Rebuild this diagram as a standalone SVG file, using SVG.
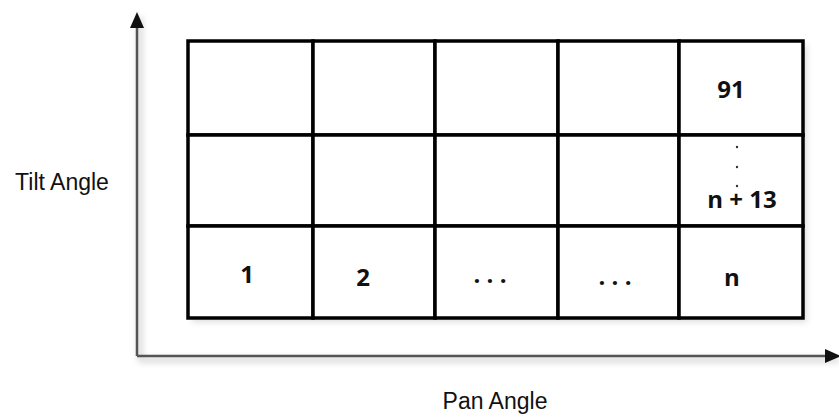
<svg xmlns="http://www.w3.org/2000/svg" width="839" height="418" viewBox="0 0 839 418">
<style>
.cell{fill:#fff;stroke:#000;stroke-width:3.5}
.num{font-family:"Open Sans","Liberation Sans",sans-serif;font-weight:bold;font-size:24px;fill:#111;text-anchor:middle}
.lbl{font-family:"Liberation Sans",Arial,sans-serif;font-size:23px;fill:#111;text-anchor:middle}
.axis{stroke:#555;stroke-width:2.5;fill:none}
</style>
<defs>
<marker id="ah" markerWidth="16" markerHeight="14" refX="4" refY="7" orient="auto" markerUnits="userSpaceOnUse">
<path d="M0,0 L16,7 L0,14 z" fill="#111"/>
</marker>
<filter id="sh" x="-20%" y="-20%" width="140%" height="140%"><feGaussianBlur stdDeviation="3"/></filter>
</defs>
<rect width="839" height="418" fill="#fff"/>
<g id="connectors">
<path d="M140,360 L140,17 M140,360 L839,360" stroke="#ccc" stroke-width="4" fill="none" filter="url(#sh)"/>
<path class="axis" d="M137,356 L137,24" marker-end="url(#ah)"/>
<path class="axis" d="M137,356 L829,356" marker-end="url(#ah)"/>
</g>
<g id="grid">
<rect x="192" y="45" width="615" height="277" fill="#ddd" filter="url(#sh)"/>
<g id="r1c1"><rect class="cell" x="188" y="41" width="125" height="94"/></g>
<g id="r1c2"><rect class="cell" x="313" y="41" width="122" height="94"/></g>
<g id="r1c3"><rect class="cell" x="435" y="41" width="123" height="94"/></g>
<g id="r1c4"><rect class="cell" x="558" y="41" width="121" height="94"/></g>
<g id="r1c5"><rect class="cell" x="679" y="41" width="124" height="94"/><text class="num" x="731" y="98">91</text></g>
<g id="r2c1"><rect class="cell" x="188" y="135" width="125" height="91"/></g>
<g id="r2c2"><rect class="cell" x="313" y="135" width="122" height="91"/></g>
<g id="r2c3"><rect class="cell" x="435" y="135" width="123" height="91"/></g>
<g id="r2c4"><rect class="cell" x="558" y="135" width="121" height="91"/></g>
<g id="r2c5"><rect class="cell" x="679" y="135" width="124" height="91"/>
<circle cx="737" cy="147" r="1.2" fill="#333"/><circle cx="737" cy="167" r="1.2" fill="#333"/><circle cx="737" cy="186" r="1.2" fill="#333"/>
<text class="num" x="742" y="208">n + 13</text></g>
<g id="r3c1"><rect class="cell" x="188" y="226" width="125" height="92"/><text class="num" x="247" y="283">1</text></g>
<g id="r3c2"><rect class="cell" x="313" y="226" width="122" height="92"/><text class="num" x="363" y="286">2</text></g>
<g id="r3c3"><rect class="cell" x="435" y="226" width="123" height="92"/><text class="num" x="490" y="283">. . .</text></g>
<g id="r3c4"><rect class="cell" x="558" y="226" width="121" height="92"/><text class="num" x="615" y="285">. . .</text></g>
<g id="r3c5"><rect class="cell" x="679" y="226" width="124" height="92"/><text class="num" x="732" y="286">n</text></g>
</g>
<g id="labels">
<text class="lbl" x="62" y="190">Tilt Angle</text>
<text class="lbl" x="495" y="409">Pan Angle</text>
</g>
</svg>
